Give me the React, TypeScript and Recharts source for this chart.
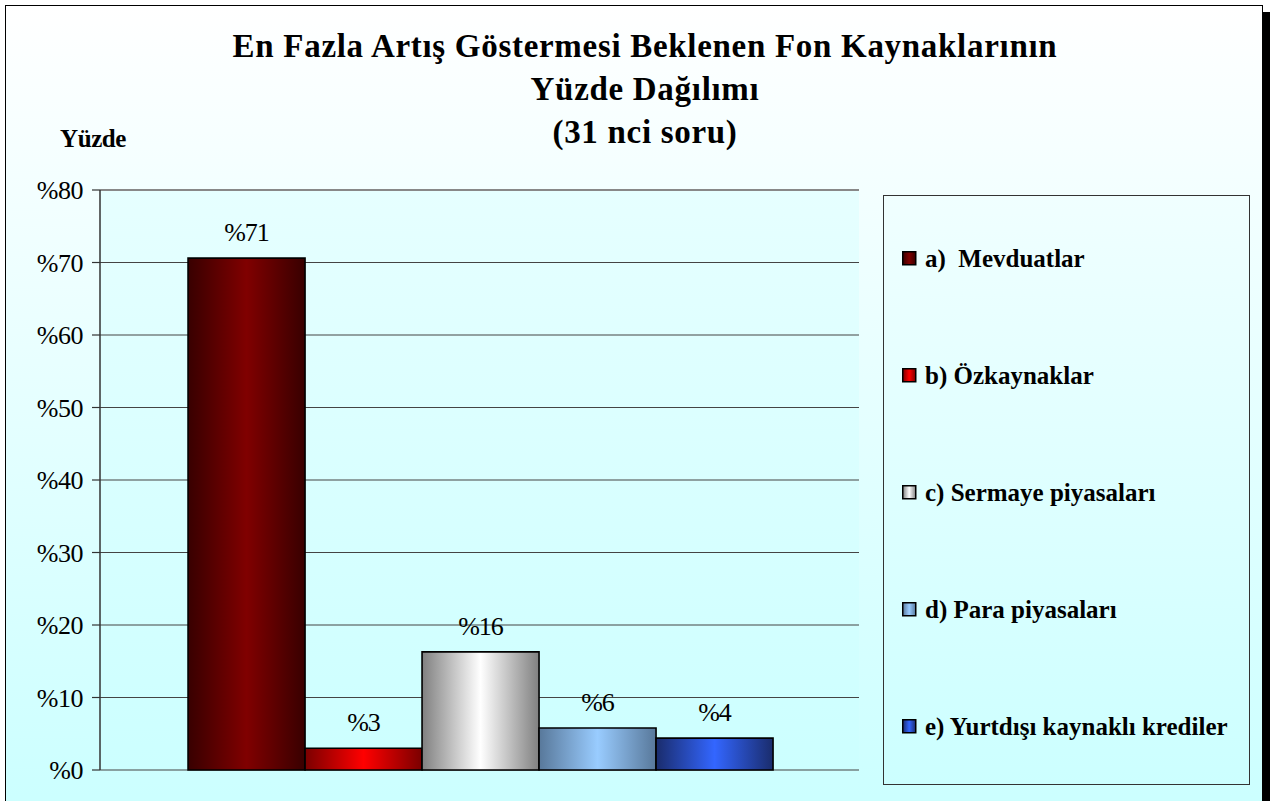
import { BarChart, Bar, XAxis, YAxis, CartesianGrid, LabelList, Legend, ReferenceLine } from "recharts";

const categories = ["31 nci soru"];
const seriesNames = [
  "a)  Mevduatlar",
  "b) Özkaynaklar",
  "c) Sermaye piyasaları",
  "d) Para piyasaları",
  "e) Yurtdışı kaynaklı krediler",
];
const seriesValues = [70.6, 3.0, 16.3, 5.8, 4.4];
const yTicks = [0, 10, 20, 30, 40, 50, 60, 70, 80];
const titleLines = ["En Fazla Artış Göstermesi Beklenen Fon Kaynaklarının", "Yüzde Dağılımı", "(31 nci soru)"];

// edge colour, centre colour for each bar's horizontal shading
const barShades = [
  ["#380000", "#800000"],
  ["#7a0000", "#ff0000"],
  ["#808080", "#ffffff"],
  ["#58789a", "#99ccff"],
  ["#1a2c6c", "#3366ff"],
];

const data = categories.map((name) => {
  const row: Record<string, string | number> = { name };
  seriesValues.forEach((v, i) => (row["s" + i] = v));
  return row;
});

const serif = "'Liberation Serif', 'Times New Roman', serif";

function LegendBox(props: any) {
  const payload = props.payload || [];
  return (
    <div
      style={{
        width: 367,
        height: 590,
        boxSizing: "border-box",
        border: "1px solid #333",
        background: "linear-gradient(#f0ffff, #ccffff)",
        paddingTop: 4,
      }}
    >
      {payload.map((e: any, i: number) => (
        <div key={i} style={{ height: 117, display: "flex", alignItems: "center", paddingLeft: 18 }}>
          <svg width={15} height={15} style={{ flex: "none" }}>
            <rect x={0.75} y={0.75} width={13} height={13} fill={`url(#shade${i})`} stroke="#000" strokeWidth={1.5} />
          </svg>
          <span
            style={{
              marginLeft: 8,
              fontFamily: serif,
              fontWeight: "bold",
              fontSize: 25,
              letterSpacing: 0,
              color: "#000",
              whiteSpace: "pre",
            }}
          >
            {e.value}
          </span>
        </div>
      ))}
    </div>
  );
}

export default function App() {
  return (
    <div style={{ position: "absolute", left: 0, top: 0, width: 1270, height: 801, overflow: "hidden", background: "#fff" }}>
      <div
        style={{
          position: "absolute",
          left: 5,
          top: 5,
          width: 1256,
          height: 830,
          border: "1px solid #000",
          background: "linear-gradient(#ffffff, #ccffff 790px)",
          boxShadow: "7px 7px 0 #000",
        }}
      />
      <div
        style={{
          position: "absolute",
          left: 145,
          top: 25,
          width: 1000,
          textAlign: "center",
          whiteSpace: "nowrap",
          fontFamily: serif,
          fontWeight: "bold",
          fontSize: 33,
          lineHeight: "43px",
          letterSpacing: 0.7,
          color: "#000",
        }}
      >
        {titleLines.map((t) => (
          <div key={t}>{t}</div>
        ))}
      </div>
      <div
        style={{
          position: "absolute",
          left: 60,
          top: 125,
          fontFamily: serif,
          fontWeight: "bold",
          fontSize: 25,
          letterSpacing: -0.4,
          color: "#000",
        }}
      >
        Yüzde
      </div>
      <div style={{ position: "absolute", left: 0, top: 0 }}>
        <BarChart
          width={1270}
          height={801}
          data={data}
          margin={{ top: 190, right: 411, bottom: 31, left: 40 }}
          barCategoryGap="11.6%"
          barGap={0}
        >
          <defs>
            {barShades.map(([edge, mid], i) => (
              <linearGradient key={i} id={`shade${i}`} x1="0" y1="0" x2="1" y2="0">
                <stop offset="0%" stopColor={edge} />
                <stop offset="50%" stopColor={mid} />
                <stop offset="100%" stopColor={edge} />
              </linearGradient>
            ))}
            <linearGradient id="plotBg" x1="0" y1="0" x2="0" y2="1">
              <stop offset="0%" stopColor="#e6ffff" />
              <stop offset="100%" stopColor="#ccffff" />
            </linearGradient>
          </defs>
          <CartesianGrid vertical={false} stroke="#444" strokeWidth={1.2} fill="url(#plotBg)" />
          <XAxis
            dataKey="name"
            tick={false}
            tickLine={false}
            height={0}
            axisLine={{ stroke: "#333", strokeWidth: 2 }}
          />
          <YAxis
            domain={[0, 80]}
            ticks={yTicks}
            interval={0}
            width={60}
            tickSize={8}
            tickMargin={9}
            tickFormatter={(v: number) => "%" + v}
            axisLine={{ stroke: "#333", strokeWidth: 1.5 }}
            tickLine={{ stroke: "#333", strokeWidth: 1.2 }}
            tick={{ fontFamily: serif, fontSize: 26, fill: "#000", letterSpacing: -0.5 }}
          />
          <YAxis
            yAxisId="frame"
            orientation="right"
            width={0}
            tick={false}
            tickLine={false}
            axisLine={{ stroke: "#888", strokeWidth: 2 }}
          />
          <ReferenceLine y={80} stroke="#888" strokeWidth={2} />
          {seriesNames.map((n, i) => (
            <Bar
              key={n}
              dataKey={"s" + i}
              name={n}
              fill={`url(#shade${i})`}
              stroke="#000"
              strokeWidth={1.6}
              isAnimationActive={false}
            >
              <LabelList
                dataKey={"s" + i}
                position="top"
                offset={17}
                formatter={(v: any) => "%" + Math.round(Number(v))}
                style={{ fontFamily: serif, fontSize: 26, fill: "#000", letterSpacing: -1 }}
              />
            </Bar>
          ))}
          <Legend
            layout="vertical"
            align="center"
            verticalAlign="middle"
            content={<LegendBox />}
            wrapperStyle={{ position: "absolute", left: 883, top: 195, width: 367, height: 590 }}
          />
        </BarChart>
      </div>
    </div>
  );
}
